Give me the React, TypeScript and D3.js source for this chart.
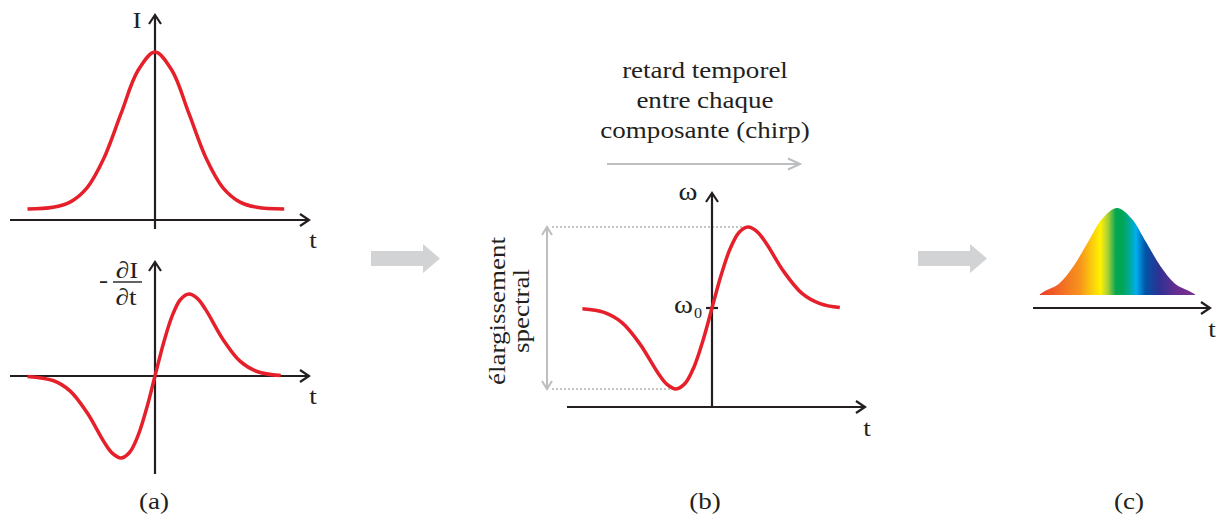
import React from 'react';
import * as d3 from 'd3';

// ---- data ----
const pulseT = [-3.75, -3, -2.5, -2, -1.5, -1, -0.5, 0, 0.5, 1, 1.5, 2, 2.5, 3, 3.8];
const pulseI = [0, 0.011, 0.044, 0.135, 0.325, 0.607, 0.882, 1, 0.882, 0.607, 0.325, 0.135, 0.044, 0.011, 0];

const derivT = [-3.75, -3, -2.5, -2, -1.5, -1.25, -1, -0.75, -0.5, -0.25, 0, 0.25, 0.5, 0.75, 1, 1.25, 1.5, 2, 2.5, 3, 3.7];
const derivV = [-0.005, -0.055, -0.181, -0.446, -0.803, -0.944, -1, -0.933, -0.728, -0.4, 0, 0.4, 0.728, 0.933, 1, 0.944, 0.803, 0.446, 0.181, 0.055, 0.005];

const chirpT = [-3.6, -3, -2.5, -2, -1.5, -1.25, -1, -0.75, -0.5, -0.25, 0, 0.25, 0.5, 0.75, 1, 1.25, 1.5, 2, 2.5, 3, 3.55];
const chirpW = [-0.01, -0.055, -0.181, -0.446, -0.803, -0.944, -1, -0.933, -0.728, -0.4, 0, 0.4, 0.728, 0.933, 1, 0.944, 0.803, 0.446, 0.181, 0.055, 0.005];

const specT = [-2.66, -2.5, -2, -1.5, -1, -0.5, 0, 0.5, 1, 1.5, 2, 2.5, 2.69];
const specI = [0.01, 0.044, 0.13, 0.33, 0.61, 0.88, 1, 0.88, 0.61, 0.33, 0.13, 0.044, 0.01];

const rainbowOffsets = [0, 0.26, 0.39, 0.44, 0.49, 0.53, 0.58, 0.62, 0.68, 0.77, 0.88, 1];
const rainbowColors = ['#ed3e2a', '#f7941d', '#fff200', '#a6ce39', '#00a651', '#00a651', '#00a99d', '#00aeef', '#0054a6', '#2e3192', '#662d91', '#7b3290'];

const topLines = ['retard temporel', 'entre chaque', 'composante (chirp)'];
const sideLines = ['élargissement', 'spectral'];
const panelLabels = ['(a)', '(b)', '(c)'];
const axisT = 't';

// ---- styling ----
const INK = '#231f20';
const RED = '#e5202a';
const GREY = '#bcbec0';
const BLOCK = '#d1d3d4';
const FONT = "'Liberation Serif', 'Times New Roman', serif";
const STRETCH = 1.15;
const FS = 23.5;

function SText(props: { x: number; y: number; children: any; anchor?: string; size?: number; rotate?: number; fill?: string }) {
  const { x, y, children, anchor = 'middle', size = FS, rotate = 0, fill = INK } = props;
  return (
    <text
      transform={`translate(${x},${y}) rotate(${rotate}) scale(${STRETCH},1)`}
      textAnchor={anchor as any}
      fontFamily={FONT}
      fontSize={size}
      fill={fill}
    >
      {children}
    </text>
  );
}

function HArrow({ x1, x2, y, color = INK, w = 2.2, head = 9, spread = 6 }: any) {
  return (
    <g stroke={color} strokeWidth={w} fill="none" strokeLinecap="butt">
      <line x1={x1} y1={y} x2={x2 - 1} y2={y} />
      <path d={`M${x2 - head},${y - spread} L${x2},${y} L${x2 - head},${y + spread}`} strokeLinejoin="miter" />
    </g>
  );
}

function VArrow({ x, y1, y2, color = INK, w = 2.2, head = 9, spread = 6 }: any) {
  return (
    <g stroke={color} strokeWidth={w} fill="none">
      <line x1={x} y1={y1} x2={x} y2={y2 + 1} />
      <path d={`M${x - spread},${y2 + head} L${x},${y2} L${x + spread},${y2 + head}`} />
    </g>
  );
}

function BlockArrow({ x0, yc }: { x0: number; yc: number }) {
  const bodyLen = 52, bodyH = 15, headLen = 17, headH = 29;
  const pts = [
    [x0, yc - bodyH / 2],
    [x0 + bodyLen, yc - bodyH / 2],
    [x0 + bodyLen, yc - headH / 2],
    [x0 + bodyLen + headLen, yc],
    [x0 + bodyLen, yc + headH / 2],
    [x0 + bodyLen, yc + bodyH / 2],
    [x0, yc + bodyH / 2],
  ];
  return <polygon points={pts.map((p) => p.join(',')).join(' ')} fill={BLOCK} />;
}

export default function App() {
  const xA = d3.scaleLinear().domain([-4, 4]).range([19, 291]);
  const yA1 = d3.scaleLinear().domain([0, 1]).range([209, 52]);
  const yA2 = d3.scaleLinear().domain([-1, 1]).range([458, 294]);
  const xB = d3.scaleLinear().domain([-4, 4]).range([568, 856]);
  const yB = d3.scaleLinear().domain([-1, 1]).range([389, 227]);
  const xC = d3.scaleLinear().domain([-3, 3]).range([1030, 1204]);
  const yC = d3.scaleLinear().domain([0, 1]).range([295, 208]);

  const curve = d3.curveCatmullRom.alpha(0.5);
  const lineA1 = d3.line<number>().x((_, i) => xA(pulseT[i])).y((d) => yA1(d)).curve(curve);
  const lineA2 = d3.line<number>().x((_, i) => xA(derivT[i])).y((d) => yA2(d)).curve(curve);
  const lineB = d3.line<number>().x((_, i) => xB(chirpT[i])).y((d) => yB(d)).curve(curve);
  const areaC = d3
    .area<number>()
    .x((_, i) => xC(specT[i]))
    .y0(yC(0))
    .y1((d) => yC(d))
    .curve(curve);

  const bMaxIdx = chirpW.indexOf(d3.max(chirpW) as number);
  const bMinIdx = chirpW.indexOf(d3.min(chirpW) as number);
  const dotX0 = 552;

  return (
    <svg width={1221} height={523} style={{ position: 'absolute', left: 0, top: 0, background: '#fff' }}>
      <defs>
        <linearGradient id="rainbow" gradientUnits="userSpaceOnUse" x1={xC(specT[0])} x2={xC(specT[specT.length - 1])} y1={0} y2={0}>
          {rainbowOffsets.map((o, i) => (
            <stop key={i} offset={o} stopColor={rainbowColors[i]} />
          ))}
        </linearGradient>
      </defs>

      {/* ---------- Panel (a) top ---------- */}
      <HArrow x1={10} x2={309} y={220} />
      <VArrow x={xA(0)} y1={229} y2={15} />
      <path d={lineA1(pulseI) || ''} fill="none" stroke={RED} strokeWidth={3.5} />
      <SText x={137} y={28}>I</SText>
      <SText x={313} y={248}>{axisT}</SText>

      {/* ---------- Panel (a) bottom ---------- */}
      <HArrow x1={10} x2={309} y={yA2(0)} />
      <VArrow x={xA(0)} y1={474} y2={262} />
      <path d={lineA2(derivV) || ''} fill="none" stroke={RED} strokeWidth={3.5} />
      <SText x={103.5} y={288}>-</SText>
      <SText x={127} y={278}>∂I</SText>
      <line x1={113} x2={142} y1={282} y2={282} stroke={INK} strokeWidth={1.4} />
      <SText x={126} y={305}>∂t</SText>
      <SText x={313} y={404}>{axisT}</SText>
      <SText x={154} y={509}>{panelLabels[0]}</SText>

      {/* ---------- Block arrows ---------- */}
      <BlockArrow x0={371} yc={258.5} />
      <BlockArrow x0={918} yc={258.5} />

      {/* ---------- Panel (b) ---------- */}
      {topLines.map((s, i) => (
        <SText key={i} x={705} y={78 + i * 30}>{s}</SText>
      ))}
      <HArrow x1={607} x2={800} y={164} color={GREY} w={2} head={12} spread={5.5} />

      <line x1={dotX0} x2={xB(chirpT[bMaxIdx])} y1={yB(chirpW[bMaxIdx])} y2={yB(chirpW[bMaxIdx])} stroke="#b3b3b3" strokeWidth={1.5} strokeDasharray="2 2" />
      <line x1={dotX0} x2={xB(chirpT[bMinIdx])} y1={yB(chirpW[bMinIdx])} y2={yB(chirpW[bMinIdx])} stroke="#b3b3b3" strokeWidth={1.5} strokeDasharray="2 2" />
      <g stroke={GREY} strokeWidth={2} fill="none">
        <line x1={547} x2={547} y1={yB(chirpW[bMaxIdx]) + 1} y2={yB(chirpW[bMinIdx]) - 1} />
        <path d={`M${547 - 5},${yB(chirpW[bMaxIdx]) + 8} L547,${yB(chirpW[bMaxIdx])} L${547 + 5},${yB(chirpW[bMaxIdx]) + 8}`} />
        <path d={`M${547 - 5},${yB(chirpW[bMinIdx]) - 8} L547,${yB(chirpW[bMinIdx])} L${547 + 5},${yB(chirpW[bMinIdx]) - 8}`} />
      </g>
      {sideLines.map((s, i) => (
        <SText key={i} x={505 + i * 24} y={311} rotate={-90}>{s}</SText>
      ))}

      <HArrow x1={567} x2={865} y={407} />
      <VArrow x={xB(0)} y1={407} y2={193} />
      <line x1={xB(0) - 6} x2={xB(0) + 6} y1={yB(0)} y2={yB(0)} stroke={INK} strokeWidth={2.2} />
      <path d={lineB(chirpW) || ''} fill="none" stroke={RED} strokeWidth={3.5} />
      <SText x={688} y={200} size={25}>ω</SText>
      <SText x={693} y={313} anchor="end" size={25}>ω</SText>
      <SText x={694} y={318} anchor="start" size={14}>0</SText>
      <SText x={867} y={436}>{axisT}</SText>
      <SText x={705} y={509}>{panelLabels[1]}</SText>

      {/* ---------- Panel (c) ---------- */}
      <path d={areaC(specI) || ''} fill="url(#rainbow)" />
      <HArrow x1={1033} x2={1210} y={308} />
      <SText x={1212} y={337}>{axisT}</SText>
      <SText x={1129} y={509}>{panelLabels[2]}</SText>
    </svg>
  );
}
